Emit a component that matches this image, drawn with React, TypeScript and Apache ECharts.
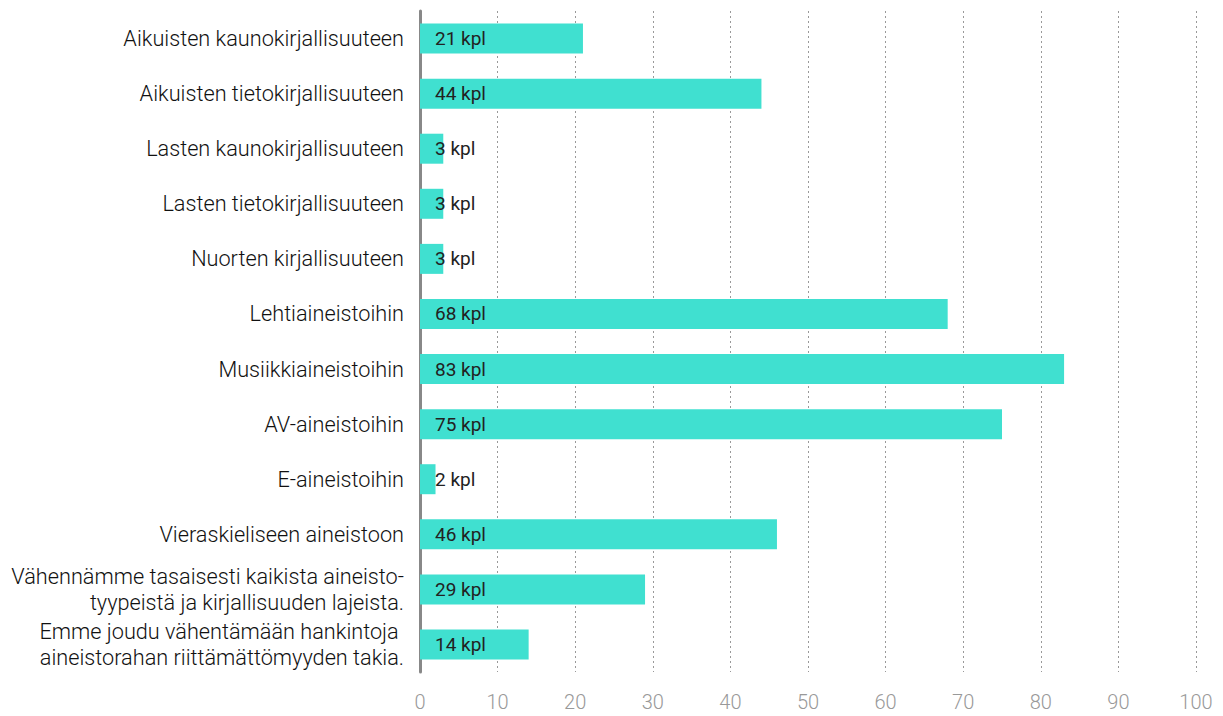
import React, { useEffect, useRef } from "react";
import * as echarts from "echarts";

const categories = [
  "Aikuisten kaunokirjallisuuteen",
  "Aikuisten tietokirjallisuuteen",
  "Lasten kaunokirjallisuuteen",
  "Lasten tietokirjallisuuteen",
  "Nuorten kirjallisuuteen",
  "Lehtiaineistoihin",
  "Musiikkiaineistoihin",
  "AV-aineistoihin",
  "E-aineistoihin",
  "Vieraskieliseen aineistoon",
  "Vähennämme tasaisesti kaikista aineisto-\ntyypeistä ja kirjallisuuden lajeista.",
  "Emme joudu vähentämään hankintoja \naineistorahan riittämättömyyden takia.",
];
const values = [21, 44, 3, 3, 3, 68, 83, 75, 2, 46, 29, 14];
const unit = "kpl";

export default function App() {
  const ref = useRef<HTMLDivElement>(null);
  useEffect(() => {
    const chart = echarts.init(ref.current!, null, { renderer: "svg" });
    const font = "Roboto";
    chart.setOption({
      animation: false,
      grid: { left: 420, right: 27, top: 11, bottom: 44, containLabel: false },
      xAxis: {
        type: "value",
        min: 0,
        max: 100,
        interval: 10,
        axisLine: { show: false },
        axisTick: { show: false },
        axisLabel: { color: "#999", fontSize: 20, fontFamily: font, fontWeight: 300, margin: 20 },
        splitLine: { show: true, lineStyle: { color: "#999", type: [2, 3], width: 1 } },
      },
      yAxis: {
        type: "category",
        inverse: true,
        data: categories,
        axisLine: { show: true, lineStyle: { color: "#888", width: 3 } },
        axisTick: { show: false },
        axisLabel: {
          color: "#111",
          fontSize: 21.7,
          fontFamily: font,
          fontWeight: 300,
          margin: 16,
          lineHeight: 26,
          align: "right",
        },
        splitLine: { show: false },
      },
      series: [
        {
          type: "bar",
          data: values,
          barWidth: 30,
          itemStyle: { color: "#40E0D0" },
          label: {
            show: true,
            position: [15, "50%"],
            verticalAlign: "middle",
            align: "left",
            color: "#222",
            fontSize: 19,
            fontFamily: font,
            fontWeight: 400,
            formatter: (p: any) => `${p.value} ${unit}`,
          },
        },
      ],
    });
    return () => chart.dispose();
  }, []);
  return <div ref={ref} style={{ width: 1223, height: 716, position: "absolute", left: 0, top: 0 }} />;
}
